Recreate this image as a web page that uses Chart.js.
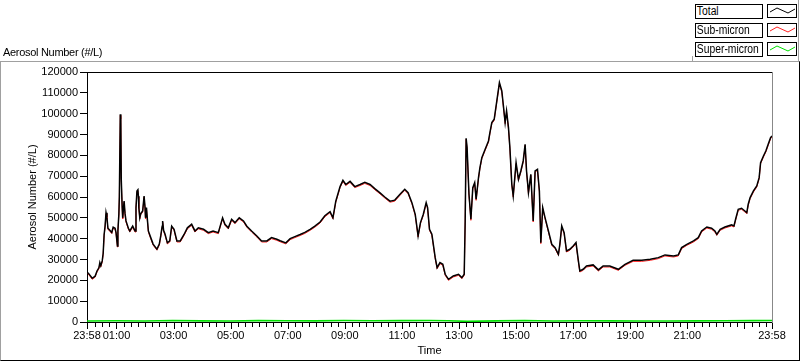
<!DOCTYPE html>
<html>
<head>
<meta charset="utf-8">
<script src="https://cdn.jsdelivr.net/npm/chart.js@4.4.1/dist/chart.umd.min.js"></script>
<style>
  html, body { margin: 0; padding: 0; background: #fff; }
  #wrap { position: relative; width: 800px; height: 361px; overflow: hidden; font-family: "Liberation Sans", Arial, sans-serif; }
  #frame { position: absolute; left: 0; top: 61px; width: 800px; height: 300px; box-sizing: border-box;
           border-top: 1px solid #a0a0a0; border-left: 1px solid #a0a0a0; border-right: 1px solid #000; border-bottom: 1px solid #000; }
  #legpanel { position: absolute; left: 692px; top: 0; width: 107px; height: 62px; box-sizing: border-box;
              border-right: 1px solid #a0a0a0; }
  #legcorner { position: absolute; left: 692px; top: 56px; width: 1px; height: 6px; background: #a0a0a0; }
  #c { position: absolute; left: 0; top: 0; }
  .lbox { position: absolute; left: 695px; width: 68px; height: 15px; box-sizing: border-box; border: 1px solid #000; background: #fff;
          font-size: 12px; line-height: 13px; color: #000; white-space: nowrap; overflow: hidden; }
  .lbox span { display: inline-block; transform: scaleX(0.86); transform-origin: 0 0; padding-left: 1px; }
  .sw { position: absolute; left: 767px; width: 30px; height: 14px; box-sizing: border-box; border: 1px solid #000; background: #fff; }
  .sw svg { position: absolute; left: 0; top: 0; }
  #ttl { position: absolute; left: 3px; top: 46px; font-size: 11px; letter-spacing: -0.3px; color: #000; white-space: nowrap; }
</style>
</head>
<body>
<div id="wrap">
  <div id="frame"></div>
  <canvas id="c" width="800" height="361"></canvas>
  <div id="legpanel"></div>
  <div id="legcorner"></div>
  <div id="ttl">Aerosol Number (#/L)</div>
  <div class="lbox" style="top:4px"><span>Total</span></div>
  <div class="lbox" style="top:23px"><span>Sub-micron</span></div>
  <div class="lbox" style="top:42px"><span>Super-micron</span></div>
  <div class="sw" style="top:4px"><svg width="28" height="12"><polyline points="2,7 9,3 20,8 27,4" fill="none" stroke="#000" stroke-width="1"/></svg></div>
  <div class="sw" style="top:23px"><svg width="28" height="12"><polyline points="2,7 9,3 20,8 27,4" fill="none" stroke="#ff2020" stroke-width="1"/></svg></div>
  <div class="sw" style="top:42px"><svg width="28" height="12"><polyline points="2,7 9,3 20,8 27,4" fill="none" stroke="#00e000" stroke-width="1"/></svg></div>
</div>
<script>
// Minutes after 23:58 (start of record)
const minutes = [2,6,11,17,21,25,27,29,32,34,36,38,40,42,44,48,52,55,59,61,64,65,67,68,70,71,72,74,75,78,80,82,87,90,96,101,103,105,107,108,109,111,113,117,120,122,123,125,127,129,134,139,147,152,155,158,159,161,164,169,174,178,183,189,196,204,211,220,227,234,245,255,265,276,285,290,297,304,311,320,329,336,346,357,367,378,388,399,406,418,427,437,448,458,469,479,490,500,511,517,523,532,538,544,553,563,574,584,595,605,616,626,637,647,658,668,675,683,690,696,701,707,713,716,720,725,732,736,742,748,753,760,770,781,788,793,795,797,799,803,807,811,815,818,823,826,830,837,844,847,851,856,861,867,872,875,879,882,886,889,893,896,902,907,912,917,921,924,928,933,938,942,947,951,954,958,963,970,977,984,991,994,998,1003,1008,1015,1022,1028,1033,1036,1043,1050,1064,1075,1085,1099,1117,1131,1148,1166,1184,1201,1215,1233,1243,1250,1261,1275,1285,1292,1303,1313,1320,1324,1331,1341,1355,1360,1364,1369,1376,1383,1387,1390,1394,1401,1408,1413,1416,1422,1427,1432,1437,1440];

const totalValues = [23700,22500,21000,22000,24500,26000,28500,27000,29300,33000,
42000,46000,52500,50000,45000,44000,43000,45500,45000,43000,
36500,44000,51800,60000,99700,98000,68600,55000,50000,58000,
52000,48500,45000,43700,46000,43700,55000,62900,63500,60500,
55000,50000,52000,53300,60500,55000,50000,54900,49000,43700,
40500,37400,35000,37400,41300,46000,48500,44000,42200,38000,
38900,46000,44500,38900,38900,42000,45200,46900,43700,45200,
44500,42900,43700,42900,50000,46900,45200,49300,47700,50000,
48500,46000,43700,41300,38900,38900,40500,39700,39000,38000,
40000,41000,42000,43000,44500,46000,48000,51000,53000,50000,
58000,65000,68000,66000,67500,65000,66000,67000,66000,64000,
62000,60000,58000,58500,61300,63700,62100,57300,51700,41300,
47700,51700,57300,54900,44500,42100,30900,26100,28500,27700,
22900,20500,22100,22900,21300,22900,48500,88200,83700,61300,
49300,64500,66900,58900,69300,74100,78900,82900,86900,90900,
95700,97300,105300,114900,110900,104500,95700,101300,93300,83700,
66100,60500,76500,68500,72500,77300,85300,72500,62100,70900,
48500,72500,73300,62900,38100,54900,50000,43700,37300,35700,
32500,37300,46100,42900,34100,34900,36500,38100,29300,24500,
25300,26900,27400,25000,26900,26900,25300,27700,29600,29600,
30100,30900,32200,31700,32200,35700,37300,38900,40500,43700,
45600,45000,43700,42100,44500,45600,46600,46100,49800,54100,
54600,53300,52500,56500,59700,62900,65300,69300,76500,79700,
82100,85300,88500,89300];

const subMicronValues = [23200,22000,20500,21500,24000,25500,28000,26500,28800,32500,
41500,45500,52000,49500,44500,43500,42500,45000,44500,42500,
36000,43500,51300,59500,99200,97500,68100,54500,49500,57500,
51500,48000,44500,43200,45500,43200,54500,62400,63000,60000,
54500,49500,51500,52800,60000,54500,49500,54400,48500,43200,
40000,36900,34500,36900,40800,45500,48000,43500,41700,37500,
38400,45500,44000,38400,38400,41500,44700,46400,43200,44700,
44000,42400,43200,42400,49500,46400,44700,48800,47200,49500,
48000,45500,43200,40800,38400,38400,40000,39200,38500,37500,
39500,40500,41500,42500,44000,45500,47500,50500,52500,49500,
57500,64500,67500,65500,67000,64500,65500,66500,65500,63500,
61500,59500,57500,58000,60800,63200,61600,56800,51200,40800,
47200,51200,56800,54400,44000,41600,30400,25600,28000,27200,
22400,20000,21600,22400,20800,22400,48000,87700,83200,60800,
48800,64000,66400,58400,68800,73600,78400,82400,86400,90400,
95200,96800,104800,114400,110400,104000,95200,100800,92800,83200,
65600,60000,76000,68000,72000,76800,84800,72000,61600,70400,
48000,72000,72800,62400,37600,54400,49500,43200,36800,35200,
32000,36800,45600,42400,33600,34400,36000,37600,28800,24000,
24800,26400,26900,24500,26400,26400,24800,27200,29100,29100,
29600,30400,31700,31200,31700,35200,36800,38400,40000,43200,
45100,44500,43200,41600,44000,45100,46100,45600,49300,53600,
54100,52800,52000,56000,59200,62400,64800,68800,76000,79200,
81600,84800,88000,88800];

const superMinutes = [0,60,120,180,240,300,360,420,480,540,600,660,720,760,800,860,920,980,1040,1100,1160,1220,1280,1340,1400,1440];
const superValues  = [500,600,450,700,550,500,650,600,550,700,600,650,700,600,300,550,700,500,600,550,450,500,550,600,650,700];

// Axis tick labels (minutes after 23:58 -> text)
const tickLabelMinutes = [0,62,182,302,422,542,662,782,902,1022,1142,1262,1440];
const tickLabels = ["23:58","01:00","03:00","05:00","07:00","09:00","11:00","13:00","15:00","17:00","19:00","21:00","23:58"];
const yTicks = [0,10000,20000,30000,40000,50000,60000,70000,80000,90000,100000,110000,120000];

const labelMap = {};
tickLabelMinutes.forEach((m, i) => labelMap[m] = tickLabels[i]);
const minorTicks = [];
for (let m = 17; m < 1440; m += 15) minorTicks.push(m);
const allTicks = [0, ...minorTicks, 1440];
const majorSet = new Set([0, 1440, ...tickLabelMinutes, 1382]);

const pts = (xs, ys) => xs.map((x, i) => ({x: x, y: ys[i]}));
const F = {family: "'Liberation Sans', Arial, sans-serif", size: 11};

const framePlugin = {
  id: 'framePlugin',
  afterDraw(chart) {
    const {ctx, chartArea: a} = chart;
    const xs = chart.scales.x;
    ctx.save();
    ctx.strokeStyle = '#000';
    ctx.lineWidth = 1;
    ctx.beginPath();
    ctx.moveTo(a.left, a.top + 0.5);
    ctx.lineTo(a.right + 1, a.top + 0.5);
    ctx.stroke();
    ctx.strokeStyle = '#888';
    ctx.beginPath();
    ctx.moveTo(a.right + 0.5, a.top);
    ctx.lineTo(a.right + 0.5, a.bottom + 4);
    ctx.stroke();
    ctx.strokeStyle = '#000';
    allTicks.forEach(m => {
      const px = Math.round(xs.getPixelForValue(m)) + 0.5;
      const len = majorSet.has(m) ? 6 : 4;
      ctx.beginPath();
      ctx.moveTo(px, a.bottom + 1);
      ctx.lineTo(px, a.bottom + 1 + len);
      ctx.stroke();
    });
    ctx.restore();
  }
};

new Chart(document.getElementById('c'), {
  type: 'line',
  data: {
    datasets: [
      {label: 'Total', data: pts(minutes, totalValues), borderColor: '#000', borderWidth: 1.5, pointRadius: 0, tension: 0},
      {label: 'Sub-micron', data: pts(minutes, subMicronValues), borderColor: '#ff2020', borderWidth: 1, pointRadius: 0, tension: 0},
      {label: 'Super-micron', data: pts(superMinutes, superValues), borderColor: '#00e000', borderWidth: 1.6, pointRadius: 0, tension: 0}
    ]
  },
  options: {
    responsive: false,
    animation: false,
    events: [],
    layout: {padding: {top: 72, right: 28, left: 0, bottom: 0}},
    plugins: {legend: {display: false}, tooltip: {enabled: false}, title: {display: false}},
    scales: {
      x: {
        type: 'linear', min: 0, max: 1440, position: 'bottom',
        afterFit(s) { s.height = 39; },
        afterBuildTicks(s) { s.ticks = allTicks.map(v => ({value: v})); },
        ticks: {autoSkip: false, maxRotation: 0, minRotation: 0, padding: 7, font: F, color: '#000',
                callback: (v) => labelMap[v] || ''},
        grid: {display: true, drawOnChartArea: false, drawTicks: false},
        border: {display: true, color: '#000', width: 1},
        title: {display: true, text: 'Time', font: F, color: '#000', padding: {top: 0, bottom: 3}}
      },
      y: {
        min: 0, max: 120000,
        afterFit(s) { s.width = 87; },
        afterBuildTicks(s) { s.ticks = yTicks.map(v => ({value: v})); },
        ticks: {padding: 2, font: F, color: '#000', callback: (v) => String(v)},
        grid: {display: true, drawOnChartArea: false, drawTicks: true, tickLength: 7, color: '#000'},
        border: {display: true, color: '#000', width: 1},
        title: {display: true, text: 'Aerosol Number (#/L)', font: F, color: '#000', padding: {top: 26, bottom: 0}}
      }
    }
  },
  plugins: [framePlugin]
});
</script>
</body>
</html>
